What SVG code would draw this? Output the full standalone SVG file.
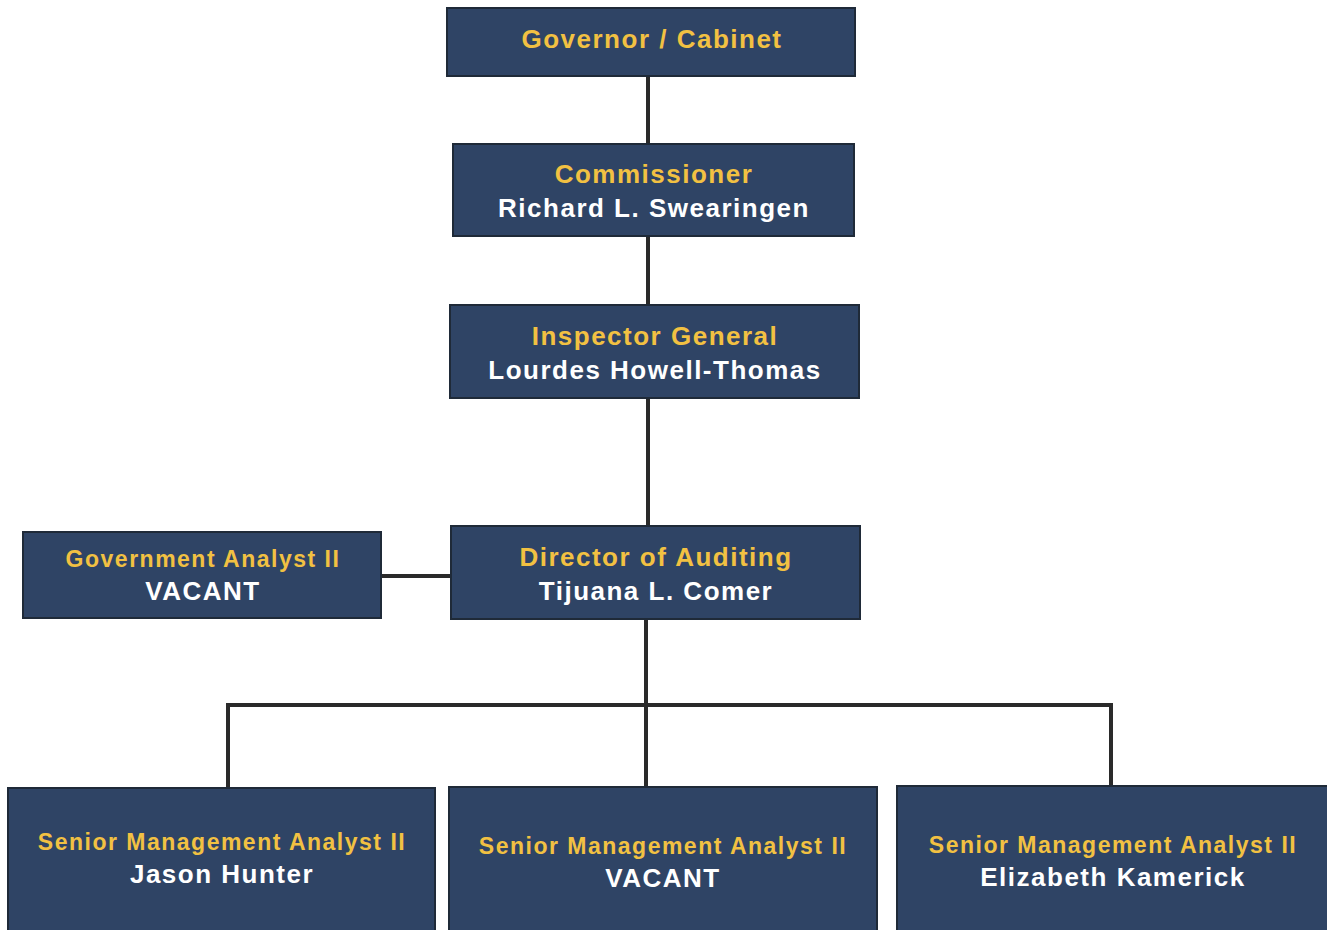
<svg xmlns="http://www.w3.org/2000/svg" width="1327" height="930" viewBox="0 0 1327 930">
<style>
.box{fill:#2f4465;stroke:#1f2a38;stroke-width:2}
.t{font-family:"Liberation Sans",Arial,sans-serif;text-anchor:middle;letter-spacing:1.5px;font-weight:bold}
.y{fill:#f2c142}
.w{fill:#ffffff}
.c{stroke:#2a2a2a;stroke-width:4;fill:none}
</style>
<rect width="1327" height="930" fill="#ffffff"/>
<g id="connectors">
<line class="c" x1="648" y1="76" x2="648" y2="144"/>
<line class="c" x1="648" y1="236" x2="648" y2="305"/>
<line class="c" x1="648" y1="398" x2="648" y2="526"/>
<line class="c" x1="381" y1="576" x2="451" y2="576"/>
<line class="c" x1="646" y1="619" x2="646" y2="787"/>
<polyline class="c" points="228,788 228,705 1111,705 1111,786"/>
</g>
<g id="governor">
<rect class="box" x="447" y="8" width="408" height="68"/>
<text class="t y" x="652" y="48" font-size="26">Governor / Cabinet</text>
</g>
<g id="commissioner">
<rect class="box" x="453" y="144" width="401" height="92"/>
<text class="t y" x="654" y="183" font-size="26">Commissioner</text>
<text class="t w" x="654" y="217" font-size="26">Richard L. Swearingen</text>
</g>
<g id="inspector-general">
<rect class="box" x="450" y="305" width="409" height="93"/>
<text class="t y" x="655" y="345" font-size="26">Inspector General</text>
<text class="t w" x="655" y="379" font-size="26">Lourdes Howell-Thomas</text>
</g>
<g id="director">
<rect class="box" x="451" y="526" width="409" height="93"/>
<text class="t y" x="656" y="566" font-size="26">Director of Auditing</text>
<text class="t w" x="656" y="600" font-size="26">Tijuana L. Comer</text>
</g>
<g id="gov-analyst">
<rect class="box" x="23" y="532" width="358" height="86"/>
<text class="t y" x="203" y="567" font-size="23">Government Analyst II</text>
<text class="t w" x="203" y="600" font-size="26">VACANT</text>
</g>
<g id="sma-hunter">
<rect class="box" x="8" y="788" width="427" height="150"/>
<text class="t y" x="222" y="850" font-size="23">Senior Management Analyst II</text>
<text class="t w" x="222" y="883" font-size="26">Jason Hunter</text>
</g>
<g id="sma-vacant">
<rect class="box" x="449" y="787" width="428" height="150"/>
<text class="t y" x="663" y="854" font-size="23">Senior Management Analyst II</text>
<text class="t w" x="663" y="887" font-size="26">VACANT</text>
</g>
<g id="sma-kamerick">
<rect class="box" x="897" y="786" width="436" height="150"/>
<text class="t y" x="1113" y="853" font-size="23">Senior Management Analyst II</text>
<text class="t w" x="1113" y="886" font-size="26">Elizabeth Kamerick</text>
</g>
</svg>
